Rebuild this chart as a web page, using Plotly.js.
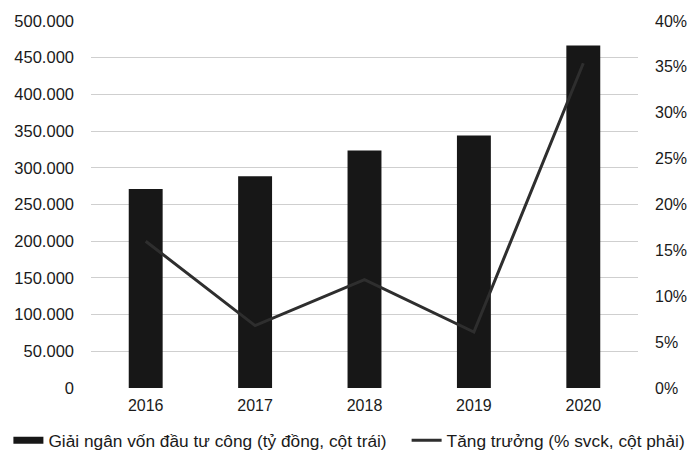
<!DOCTYPE html>
<html>
<head>
<meta charset="utf-8">
<script src="https://cdn.plot.ly/plotly-3.0.1.min.js"></script>
<style>html,body{margin:0;padding:0;background:#fff}#chart{width:687px;height:456px}</style>
</head>
<body>
<div id="chart"></div>
<script>
const years = ['2016', '2017', '2018', '2019', '2020'];
const disbursement = [271000, 288500, 323500, 344000, 466500];
const growth = [16.0, 6.8, 11.8, 6.1, 35.4];
const barName = 'Giải ngân vốn đầu tư công (tỷ đồng, cột trái)';
const lineName = 'Tăng trưởng (% svck, cột phải)';
const leftTicks = [0, 50000, 100000, 150000, 200000, 250000, 300000, 350000, 400000, 450000, 500000];
const rightTicks = [0, 5, 10, 15, 20, 25, 30, 35, 40];
const rightTickText = ['0%', '5%', '10%', '15%', '20%', '25%', '30%', '35%', '40%'];

const font = 'Liberation Sans, Arial, sans-serif';

const traces = [
  {
    type: 'bar', x: years, y: disbursement, name: barName, showlegend: false,
    marker: {color: '#171717', line: {width: 0}}, yaxis: 'y'
  },
  {
    type: 'scatter', mode: 'lines', x: [null], y: [null], name: barName,
    line: {color: '#171717', width: 7}, yaxis: 'y', hoverinfo: 'skip',
    legend: 'legend'
  },
  {
    type: 'scatter', mode: 'lines', x: years, y: growth, name: lineName,
    line: {color: '#2e2e2e', width: 3}, yaxis: 'y2', legend: 'legend2'
  }
];

const legendCommon = {
  orientation: 'h', xanchor: 'left', yanchor: 'middle', y: -0.143,
  font: {family: font, size: 17.3, color: '#1a1a1a'},
  itemwidth: 30, bgcolor: 'rgba(0,0,0,0)'
};

const layout = {
  width: 687, height: 456,
  margin: {l: 91, r: 49, t: 21, b: 68, pad: 0, autoexpand: false},
  paper_bgcolor: '#ffffff', plot_bgcolor: '#ffffff',
  separators: ',.',
  font: {family: font, color: '#1a1a1a', size: 16},
  bargap: 0.69,
  showlegend: true,
  legend: Object.assign({}, legendCommon, {x: -0.151}),
  legend2: Object.assign({}, legendCommon, {x: 0.577}),
  xaxis: {
    type: 'category', showgrid: false, zeroline: false, showline: false,
    automargin: false,
    ticks: '', tickfont: {family: font, size: 16, color: '#1a1a1a'},
    ticklabelstandoff: 6
  },
  yaxis: {
    range: [0, 500000], tickvals: leftTicks, tickformat: ',.0f',
    showgrid: true, gridcolor: '#cfcfcf', gridwidth: 1,
    zeroline: false, showline: false, ticks: '', automargin: false,
    tickfont: {family: font, size: 16.5, color: '#1a1a1a'},
    ticklabelstandoff: 16
  },
  yaxis2: {
    range: [0, 40], tickvals: rightTicks, ticktext: rightTickText,
    overlaying: 'y', side: 'right', showgrid: false, zeroline: false,
    showline: false, ticks: '', automargin: false,
    tickfont: {family: font, size: 16, color: '#1a1a1a'},
    ticklabelstandoff: 16
  }
};

Plotly.newPlot('chart', traces, layout, {displayModeBar: false, staticPlot: true});
</script>
</body>
</html>
